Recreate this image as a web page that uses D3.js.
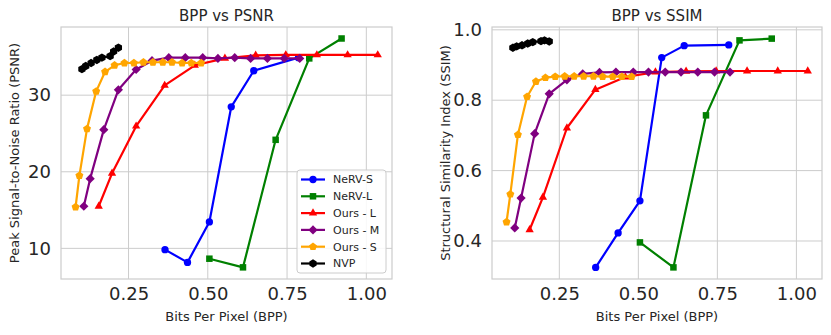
<!DOCTYPE html>
<html>
<head>
<meta charset="utf-8">
<script src="https://cdn.jsdelivr.net/npm/d3@7"></script>
<style>
  body { margin: 0; background: #fff; }
  svg { display: block; font-family: "DejaVu Sans", sans-serif; }
</style>
</head>
<body>
<svg id="fig" width="831" height="335"></svg>
<script>
// values
const bppNervS = [0.365, 0.436, 0.505, 0.574, 0.645, 0.786]
const psnrNervS = [9.83, 8.17, 13.45, 28.48, 33.19, 34.9]
const ssimNervS = [0.325, 0.423, 0.514, 0.921, 0.955, 0.957]

const bppNervL = [0.505, 0.611, 0.714, 0.820, 0.922]
const psnrNervL = [8.65, 7.52, 24.17, 34.8, 37.4]
const ssimNervL = [0.396, 0.325, 0.757, 0.970, 0.975]

const bppOursL = [0.156, 0.198, 0.274, 0.364, 0.459, 0.554, 0.651, 0.746, 0.844, 0.941, 1.036]
const psnrOursL = [15.5, 19.8, 25.95, 31.27, 33.9, 34.8, 35.2, 35.25, 35.25, 35.25, 35.25]
const ssimOursL = [0.432, 0.524, 0.721, 0.830, 0.866, 0.880, 0.882, 0.883, 0.883, 0.883, 0.883]

const bppOursM = [0.109, 0.129, 0.172, 0.218, 0.274, 0.324, 0.377, 0.429, 0.484, 0.532, 0.585, 0.635, 0.688, 0.741, 0.790]
const psnrOursM = [15.5, 19.1, 25.5, 30.7, 33.35, 34.5, 34.9, 34.9, 34.9, 34.8, 34.9, 34.8, 34.8, 34.8, 34.8]
const ssimOursM = [0.437, 0.522, 0.705, 0.818, 0.858, 0.875, 0.879, 0.880, 0.880, 0.880, 0.880, 0.880, 0.880, 0.880, 0.880]

const bppOursS = [0.083, 0.095, 0.119, 0.148, 0.176, 0.206, 0.237, 0.267, 0.297, 0.327, 0.358, 0.387, 0.419, 0.448, 0.479]
const psnrOursS = [15.4, 19.5, 25.6, 30.5, 33.05, 33.9, 34.2, 34.2, 34.3, 34.3, 34.3, 34.3, 34.2, 34.2, 34.2]
const ssimOursS = [0.454, 0.533, 0.702, 0.810, 0.853, 0.864, 0.867, 0.868, 0.868, 0.868, 0.868, 0.867, 0.867, 0.867, 0.867]

const bppNvp = [0.103, 0.115, 0.132, 0.150, 0.166, 0.192, 0.203, 0.218]
const psnrNvp = [33.4, 33.8, 34.2, 34.6, 34.9, 35.1, 35.7, 36.2]
const ssimNvp = [0.949, 0.953, 0.956, 0.961, 0.965, 0.968, 0.970, 0.967]

const seriesNames = ["NeRV-S", "NeRV-L", "Ours - L", "Ours - M", "Ours - S", "NVP"]
const xTicks = [0.25, 0.5, 0.75, 1.0]
const psnrTicks = [10, 20, 30]
const ssimTicks = [0.4, 0.6, 0.8, 1.0]

// styles
const colors = ["#0000ff", "#008000", "#ff0000", "#800080", "#ffa500", "#000000"]
const markers = ["circle", "square", "triangle", "diamond", "pentagon", "hexagon"]

const bpps = [bppNervS, bppNervL, bppOursL, bppOursM, bppOursS, bppNvp]
const psnrs = [psnrNervS, psnrNervL, psnrOursL, psnrOursM, psnrOursS, psnrNvp]
const ssims = [ssimNervS, ssimNervL, ssimOursL, ssimOursM, ssimOursS, ssimNvp]

const svg = d3.select('#fig')

// regular polygon path, first vertex pointing up
function poly(n, r, rot = 0) {
  const pts = d3.range(n).map(i => {
    const a = -Math.PI / 2 + rot + i * 2 * Math.PI / n
    return [r * Math.cos(a), r * Math.sin(a)]
  })
  return "M" + pts.map(p => p.join(",")).join("L") + "Z"
}

function markerPath(kind) {
  if (kind === "circle") return d3.symbol(d3.symbolCircle, 42)()
  if (kind === "square") return poly(4, 4.6, Math.PI / 4)
  if (kind === "triangle") return poly(3, 4.8)
  if (kind === "diamond") return poly(4, 4.6)
  if (kind === "pentagon") return poly(5, 4.2)
  return poly(6, 4.2)
}

function panel(opts) {
  const { left, right, top, bottom, xDomain, yDomain, yTicks, yFmt, ys, title, ylabel } = opts

  const x = d3.scaleLinear().domain(xDomain).range([left, right])
  const y = d3.scaleLinear().domain(yDomain).range([bottom, top])

  const g = svg.append("g")

  // grid
  g.append("g").selectAll("line").data(xTicks).join("line")
    .attr("x1", d => x(d)).attr("x2", d => x(d))
    .attr("y1", top).attr("y2", bottom)
    .attr("stroke", "#cccccc").attr("stroke-width", 1)
  g.append("g").selectAll("line").data(yTicks).join("line")
    .attr("y1", d => y(d)).attr("y2", d => y(d))
    .attr("x1", left).attr("x2", right)
    .attr("stroke", "#cccccc").attr("stroke-width", 1)

  // frame
  g.append("rect")
    .attr("x", left).attr("y", top)
    .attr("width", right - left).attr("height", bottom - top)
    .attr("fill", "none").attr("stroke", "#cccccc").attr("stroke-width", 1.2)

  // axes (labels only, no tick marks)
  const xAxis = g.append("g")
    .attr("transform", `translate(0,${bottom})`)
    .call(d3.axisBottom(x).tickValues(xTicks).tickFormat(d3.format(".2f")).tickSize(0).tickPadding(8))
  const yAxis = g.append("g")
    .attr("transform", `translate(${left},0)`)
    .call(d3.axisLeft(y).tickValues(yTicks).tickFormat(yFmt).tickSize(0).tickPadding(10))
  for (const ax of [xAxis, yAxis]) {
    ax.select(".domain").remove()
    ax.selectAll("text")
      .attr("fill", "#262626")
      .style("font-size", "18px")
      .style("font-family", "DejaVu Sans, sans-serif")
  }
  xAxis.selectAll("text").attr("dy", "0.71em")

  // series
  const line = d3.line().x(d => x(d[0])).y(d => y(d[1]))
  bpps.forEach((bpp, i) => {
    const pts = bpp.map((b, j) => [b, ys[i][j]])
    g.append("path")
      .datum(pts)
      .attr("d", line)
      .attr("fill", "none")
      .attr("stroke", colors[i])
      .attr("stroke-width", 2.2)
      .attr("stroke-linejoin", "round")
    g.append("g").selectAll("path").data(pts).join("path")
      .attr("d", markerPath(markers[i]))
      .attr("transform", d => `translate(${x(d[0])},${y(d[1])})`)
      .attr("fill", colors[i])
  })

  // title and labels
  svg.append("text")
    .attr("x", (left + right) / 2).attr("y", 20.5)
    .attr("text-anchor", "middle")
    .attr("fill", "#262626")
    .style("font-size", "15px")
    .text(title)
  svg.append("text")
    .attr("x", (left + right) / 2).attr("y", 321)
    .attr("text-anchor", "middle")
    .attr("fill", "#262626")
    .style("font-size", "13px")
    .text("Bits Per Pixel (BPP)")
  svg.append("text")
    .attr("transform", `translate(${left - 42},${(top + bottom) / 2}) rotate(-90)`)
    .attr("text-anchor", "middle")
    .attr("fill", "#262626")
    .style("font-size", "13px")
    .text(ylabel)

  return { x, y }
}

panel({
  left: 61, right: 392, top: 27, bottom: 279,
  xDomain: [0.037, 1.081], yDomain: [6.0, 38.9],
  yTicks: psnrTicks, yFmt: d3.format("d"), ys: psnrs,
  title: "BPP vs PSNR", ylabel: "Peak Signal-to-Noise Ratio (PSNR)"
})

panel({
  left: 492, right: 822, top: 27, bottom: 279,
  xDomain: [0.037, 1.081], yDomain: [0.292, 1.008],
  yTicks: ssimTicks, yFmt: d3.format(".1f"), ys: ssims,
  title: "BPP vs SSIM", ylabel: "Structural Similarity Index (SSIM)"
})

// legend on the left panel
const legend = svg.append("g").attr("transform", "translate(297,170)")
legend.append("rect")
  .attr("width", 89).attr("height", 103).attr("rx", 3)
  .attr("fill", "#ffffff").attr("fill-opacity", 0.85)
  .attr("stroke", "#cccccc").attr("stroke-width", 1)
seriesNames.forEach((name, i) => {
  const yy = 9.5 + i * 16.8
  legend.append("line")
    .attr("x1", 4).attr("x2", 28).attr("y1", yy).attr("y2", yy)
    .attr("stroke", colors[i]).attr("stroke-width", 2.2)
  legend.append("path")
    .attr("d", markerPath(markers[i]))
    .attr("transform", `translate(16,${yy})`)
    .attr("fill", colors[i])
  legend.append("text")
    .attr("x", 36).attr("y", yy).attr("dy", "0.36em")
    .attr("fill", "#262626")
    .style("font-size", "11px")
    .text(name)
})
</script>
</body>
</html>
